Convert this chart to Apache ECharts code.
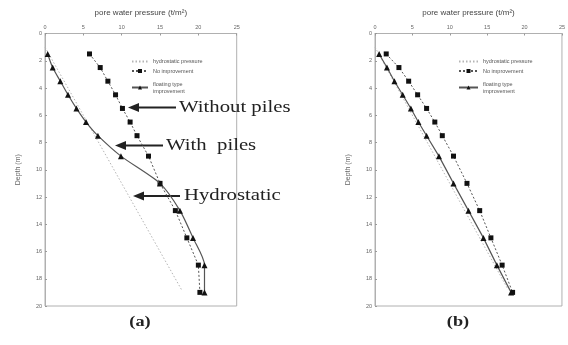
<!DOCTYPE html>
<html>
<head>
<meta charset="utf-8">
<script src="https://cdn.jsdelivr.net/npm/echarts@6/dist/echarts.min.js"></script>
<style>
  html, body { margin: 0; padding: 0; background: #fff; }
  #main { width: 568px; height: 345px; }
</style>
</head>
<body>
<div id="main"></div>
<script>
// depth of each measurement (m)
const depths = [1.5, 2.5, 3.5, 4.5, 5.5, 6.5, 7.5, 9, 11, 13, 15, 17, 19]
// panel (a) pore water pressure (t/m2)
const noImproveA = [5.8, 7.2, 8.2, 9.2, 10.1, 11.1, 12.0, 13.5, 15.0, 17.0, 18.5, 20.0, 20.2]
const floatingA = [0.35, 1.0, 2.0, 3.0, 4.1, 5.35, 6.9, 9.9, 15.0, 17.6, 19.3, 20.8, 20.8]
// panel (b)
const noImproveB = [1.5, 3.2, 4.5, 5.7, 6.9, 8.0, 9.0, 10.5, 12.3, 14.0, 15.5, 17.0, 18.4]
const floatingB = [0.55, 1.6, 2.6, 3.7, 4.8, 5.8, 6.9, 8.55, 10.5, 12.5, 14.5, 16.3, 18.2]
// hydrostatic line end points
const hydroDepths = [1.0, 18.8]
const hydroValues = [0, 17.8]
const xTicks = [0, 5, 10, 15, 20, 25]
const yTicks = [0, 2, 4, 6, 8, 10, 12, 14, 16, 18, 20]

const NAMES = ['hydrostatic pressure', 'No improvement', 'floating type improvement']
const sansFont = 'Liberation Sans'
const serifFont = 'Liberation Serif'

function pairs (values, ys) {
  return values.map((v, i) => [v, ys[i]])
}

function xAxisOf (gridIndex) {
  return {
    gridIndex: gridIndex,
    type: 'value',
    position: 'top',
    min: xTicks[0],
    max: xTicks[xTicks.length - 1],
    interval: 5,
    name: 'pore water pressure (t/m²)',
    nameLocation: 'middle',
    nameGap: 17,
    nameTextStyle: {color: '#444', fontSize: 8, fontFamily: sansFont},
    axisLine: {show: true, lineStyle: {color: '#b0b0b0', width: 1}},
    axisTick: {show: true, inside: true, length: 2, lineStyle: {color: '#999'}},
    axisLabel: {color: '#666', fontSize: 5.5, margin: 3, fontFamily: sansFont},
    splitLine: {show: false}
  }
}

function yAxisOf (gridIndex) {
  return {
    gridIndex: gridIndex,
    type: 'value',
    inverse: true,
    min: yTicks[0],
    max: yTicks[yTicks.length - 1],
    interval: 2,
    name: 'Depth (m)',
    nameLocation: 'middle',
    nameGap: 23,
    nameTextStyle: {color: '#666', fontSize: 7, fontFamily: sansFont},
    axisLine: {show: true, lineStyle: {color: '#b0b0b0', width: 1}},
    axisTick: {show: true, inside: true, length: 2, lineStyle: {color: '#999'}},
    axisLabel: {color: '#666', fontSize: 5.5, margin: 3, fontFamily: sansFont},
    splitLine: {show: false}
  }
}

function seriesOf (idx, noImp, floating) {
  return [
    {
      name: NAMES[0],
      type: 'line',
      xAxisIndex: idx,
      yAxisIndex: idx,
      data: pairs(hydroValues, hydroDepths),
      symbol: 'none',
      lineStyle: {color: '#b5b5b5', width: 1, type: [1.5, 2]},
      itemStyle: {color: '#b5b5b5'},
      z: 2
    },
    {
      name: NAMES[1],
      type: 'line',
      xAxisIndex: idx,
      yAxisIndex: idx,
      data: pairs(noImp, depths),
      symbol: 'rect',
      symbolSize: 5,
      itemStyle: {color: '#111'},
      lineStyle: {color: '#555', width: 1, type: [2, 2]},
      z: 3
    },
    {
      name: NAMES[2],
      type: 'line',
      xAxisIndex: idx,
      yAxisIndex: idx,
      data: pairs(floating, depths),
      symbol: 'triangle',
      symbolSize: 6,
      smooth: idx === 0 ? 0.25 : false,
      itemStyle: {color: '#111'},
      lineStyle: {color: '#555', width: 1.2},
      z: 4
    }
  ]
}

function legendOf (left, top, itemWidth) {
  return {
    orient: 'vertical',
    left: left,
    top: top,
    itemWidth: itemWidth,
    itemHeight: 5,
    itemGap: 2.5,
    padding: 0,
    data: [
      {name: NAMES[0], itemStyle: {opacity: 0}},
      {name: NAMES[1]},
      {name: NAMES[2], textStyle: {padding: [7, 0, 0, 0]}}
    ],
    formatter: function (name) {
      return name === NAMES[2] ? 'floating type\nimprovement' : name
    },
    textStyle: {color: '#555', fontSize: 5.5, lineHeight: 7, fontFamily: sansFont}
  }
}

function arrow (tipX, tailX, y) {
  return {
    type: 'group',
    children: [
      {type: 'line', shape: {x1: tipX + 8, y1: y, x2: tailX, y2: y}, style: {stroke: '#222', lineWidth: 2}},
      {type: 'polygon', shape: {points: [[tipX, y], [tipX + 11, y - 4.5], [tipX + 11, y + 4.5]]}, style: {fill: '#222'}}
    ]
  }
}

function label (text, x, y, size, bold, align) {
  return {
    type: 'text',
    x: x,
    y: y,
    scaleX: 1.22,
    style: {
      text: text,
      fill: '#222',
      font: (bold ? 'bold ' : '') + size + 'px "' + serifFont + '"',
      align: align || 'left',
      verticalAlign: 'middle'
    }
  }
}

let myChart = echarts.init(document.getElementById('main'))
myChart.setOption({
  animation: false,
  backgroundColor: '#fff',
  grid: [
    {left: 45, top: 33.5, width: 191.7, height: 272.5, show: true, borderColor: '#b0b0b0', borderWidth: 1},
    {left: 375, top: 33.5, width: 190, height: 272.5, show: true, borderColor: '#b0b0b0', borderWidth: 1}
  ],
  xAxis: [xAxisOf(0), xAxisOf(1)],
  yAxis: [yAxisOf(0), yAxisOf(1)],
  legend: [legendOf(131, 58, 16), legendOf(458, 58, 19)],
  series: seriesOf(0, noImproveA, floatingA).concat(seriesOf(1, noImproveB, floatingB)),
  graphic: [
    arrow(128, 176, 107.5),
    label('Without piles', 179, 107.5, 17),
    arrow(115, 163, 145.5),
    label('With  piles', 166, 145.5, 17),
    arrow(133, 180, 196),
    label('Hydrostatic', 184, 196, 17),
    label('(a)', 140, 322, 15, true, 'center'),
    label('(b)', 458, 322, 15, true, 'center')
  ]
})
</script>
</body>
</html>
